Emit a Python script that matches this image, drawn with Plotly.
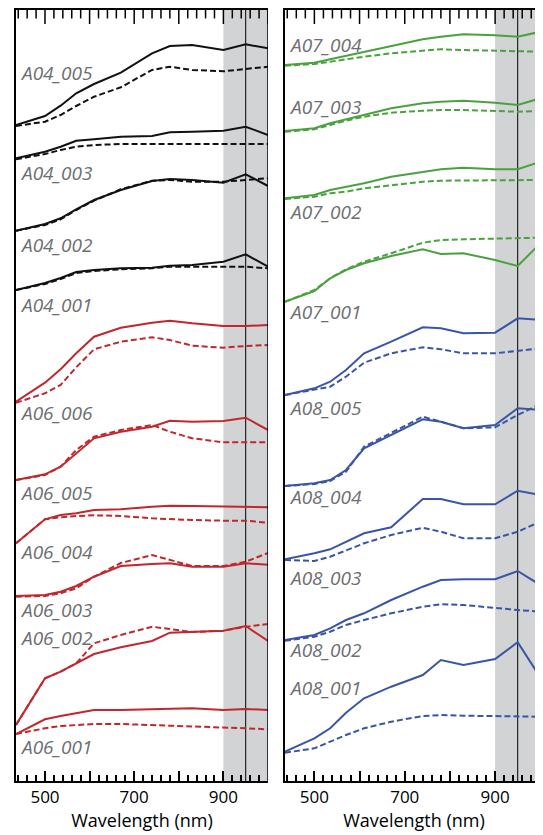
import plotly.graph_objects as go

# Wavelength sample points (nm)
wavelength = [435, 500, 535, 570, 610, 670, 740, 780, 830, 900, 950, 1000]

# ---- Left panel: A04 (black) and A06 (red); offset reflectance (arbitrary units) ----
A04_005_solid = [656, 665, 675.3, 687.7, 697, 708.3, 727.7, 735, 736, 731, 736.7, 732.7]
A04_005_dash = [655, 659.3, 666, 675, 684.3, 693.7, 711, 714.3, 711, 709.7, 712, 714.3]
A04_004_solid = [622.7, 629.3, 634.3, 640.3, 641.7, 644.3, 645, 648.7, 649.3, 650.3, 654.3, 646]
A04_004_dash = [621.7, 627, 631, 634.3, 636, 637, 637, 637, 637, 637, 637, 637]
A04_003_solid = [550.3, 557, 562.7, 571.7, 581, 591, 600, 602, 601, 598.3, 606.7, 595]
A04_003_dash = [550.3, 556, 561.7, 571, 580.3, 591.7, 600.3, 601, 599.3, 599.3, 601, 602.7]
A04_001_solid = [491, 498, 503, 509, 511, 512.7, 513.3, 515.3, 516, 519.3, 526.7, 514.3]
A04_001_dash = [491, 497, 502, 508, 510, 511.7, 512.7, 514.3, 514.3, 514.3, 514.3, 512.7]

A06_006_solid = [379.3, 398.3, 411.7, 427.7, 444.3, 453.3, 458.3, 460.3, 457.7, 455, 455, 456]
A06_006_dash = [378.3, 387.7, 396, 413.7, 431.7, 439.3, 443.7, 441, 435.3, 433.3, 435, 436]
A06_005_solid = [301, 306.7, 314.3, 327.7, 342.7, 349.3, 354.3, 360.3, 359.3, 360, 363.3, 351]
A06_005_dash = [301, 306, 314.3, 331, 344.3, 351, 356, 349.3, 342.7, 338.7, 338.7, 338.7]
A06_004_solid = [237.7, 261.7, 266, 267.7, 271, 271.7, 274.3, 275.3, 275, 274.3, 274.3, 273.7]
A06_004_dash = [237.7, 261.7, 263.7, 265, 265.7, 265, 262.7, 261.7, 261, 260.3, 260.3, 258.3]
A06_003_solid = [185, 186, 189.3, 195, 204.3, 215, 217, 217.7, 214.3, 214.3, 217.7, 216.3]
A06_003_dash = [184.3, 185, 187.7, 192.7, 204.3, 218, 226, 221, 215, 215, 219.3, 228]
A06_002_solid = [56, 102.7, 109.3, 117.7, 127, 133.7, 140, 148.3, 149, 150.3, 155, 140]
A06_002_dash = [56, 102.7, 109.3, 117.7, 137.7, 146, 154.3, 151.7, 149, 150.3, 154.3, 157]
A06_001_solid = [47, 61.7, 65, 67.7, 71, 71, 71.7, 72.7, 72.7, 71, 72, 71]
A06_001_dash = [47, 52.7, 55, 56, 57, 57, 56, 55.3, 55, 53.7, 52.7, 51.7]

# ---- Right panel: A07 (green) and A08 (blue) ----
A07_004_solid = [716, 718.3, 721.7, 725, 729.3, 735, 741.7, 744.3, 746.7, 745.7, 744.3, 749.3]
A07_004_dash = [715.3, 717, 719.3, 721.7, 724.3, 727.7, 730.3, 731.7, 731, 730, 729.3, 729.3]
A07_003_solid = [650, 652.7, 657.7, 661.7, 666, 672.7, 677.7, 679.3, 680.3, 678.3, 676, 682.7]
A07_003_dash = [649.3, 651.7, 656, 660.3, 664.3, 668.3, 670.3, 671, 671, 670, 669.3, 670]
A07_002_solid = [582.7, 586, 591, 594.3, 597.7, 604.3, 609.3, 611.7, 613.3, 611.7, 611.7, 619.3]
A07_002_dash = [582, 584.3, 587.7, 589.3, 592.7, 596, 599.3, 600.3, 600.3, 600.3, 601, 601]
A07_001_solid = [479.3, 490, 502.7, 511, 517.7, 525, 531.7, 527, 527.7, 521, 515, 537.7]
A07_001_dash = [479.3, 491, 502.7, 511.7, 519.3, 527.7, 538.3, 541, 541.7, 542.3, 543.3, 543.3]

A08_005_solid = [386, 392.7, 399.3, 411, 427.7, 439.3, 453.7, 452.7, 447.7, 448.3, 462.7, 461]
A08_005_dash = [386, 391, 394.3, 404.3, 418.3, 427.7, 433.7, 431.7, 427.7, 427.7, 430.3, 432.7]
A08_004_solid = [295, 297.7, 301, 311, 332.7, 346, 361.7, 359.3, 352.7, 356, 372.7, 371]
A08_004_dash = [295, 297, 300, 309.3, 334.3, 348.3, 364.3, 359.3, 352.7, 353.7, 366, 377]
A08_003_solid = [221.7, 227.7, 231.7, 239.3, 247.7, 253.7, 282, 282, 276.7, 276.7, 290.3, 286]
A08_003_dash = [221, 220, 224.3, 230.3, 237.7, 246, 253.3, 249.3, 242.7, 242.7, 249.3, 259.3]
A08_002_solid = [141, 146, 152.7, 161, 167.7, 181, 194.3, 201, 201.7, 201.7, 210, 196]
A08_002_dash = [140.3, 144.3, 149.3, 156, 161, 167.7, 174.3, 176.7, 176, 172.7, 171, 169.3]
A08_001_solid = [29.3, 42.7, 52.7, 68.3, 82.7, 94.3, 106, 121, 116, 122, 138.7, 103.7]
A08_001_dash = [28.3, 32.7, 39.3, 46, 52.7, 59.3, 65, 66, 65.3, 65, 65, 64.3]

# Sample labels and their vertical positions (same units as spectra)
left_labels = ["A04_005", "A04_003", "A04_002", "A04_001", "A06_006",
               "A06_005", "A06_004", "A06_003", "A06_002", "A06_001"]
left_label_y = [708, 608, 536, 476, 368, 288, 229, 171, 143, 34]
right_labels = ["A07_004", "A07_003", "A07_002", "A07_001", "A08_005",
                "A08_004", "A08_003", "A08_002", "A08_001"]
right_label_y = [736, 674, 569, 469, 373, 284, 203, 131, 93]

# Tick positions and labels
tick_vals = [500, 600, 700, 800, 900, 1000]
tick_text = ["500", "", "700", "", "900", ""]
minor_tick_vals = [440, 460, 480, 520, 540, 560, 580, 620, 640, 660, 680,
                   720, 740, 760, 780, 820, 840, 860, 880, 920, 940, 960, 980]

BLACK = "#111111"
RED = "#c1272d"
GREEN = "#4aa23e"
BLUE = "#3a55a5"

left_series = [
    (A04_005_solid, A04_005_dash, BLACK),
    (A04_004_solid, A04_004_dash, BLACK),
    (A04_003_solid, A04_003_dash, BLACK),
    (A04_001_solid, A04_001_dash, BLACK),
    (A06_006_solid, A06_006_dash, RED),
    (A06_005_solid, A06_005_dash, RED),
    (A06_004_solid, A06_004_dash, RED),
    (A06_003_solid, A06_003_dash, RED),
    (A06_002_solid, A06_002_dash, RED),
    (A06_001_solid, A06_001_dash, RED),
]
right_series = [
    (A07_004_solid, A07_004_dash, GREEN),
    (A07_003_solid, A07_003_dash, GREEN),
    (A07_002_solid, A07_002_dash, GREEN),
    (A07_001_solid, A07_001_dash, GREEN),
    (A08_005_solid, A08_005_dash, BLUE),
    (A08_004_solid, A08_004_dash, BLUE),
    (A08_003_solid, A08_003_dash, BLUE),
    (A08_002_solid, A08_002_dash, BLUE),
    (A08_001_solid, A08_001_dash, BLUE),
]

# The page body adds an 8 px margin, so the figure is sized to fit inside it.
W, H = 535, 827
LEFT_X = [435, 1000]
RIGHT_X = [435, 1006]
Y_RANGE = [0, 771]

fig = go.Figure()

for series, xa, ya in ((left_series, "x", "y"), (right_series, "x2", "y2")):
    for solid, dash, color in series:
        fig.add_trace(go.Scatter(x=wavelength, y=dash, mode="lines", xaxis=xa, yaxis=ya,
                                 line=dict(color=color, width=2, dash="6px,3px"),
                                 showlegend=False, hoverinfo="skip"))
        fig.add_trace(go.Scatter(x=wavelength, y=solid, mode="lines", xaxis=xa, yaxis=ya,
                                 line=dict(color=color, width=2),
                                 showlegend=False, hoverinfo="skip"))

# Top-edge tick marks (vertical line markers centred on the top frame, clipped to the plot)
for xa, ya in (("x", "y"), ("x2", "y2")):
    for vals, size in ((tick_vals, 20), (minor_tick_vals, 12)):
        fig.add_trace(go.Scatter(
            x=vals, y=[Y_RANGE[1]] * len(vals), mode="markers", xaxis=xa, yaxis=ya,
            marker=dict(symbol="line-ns", size=size, color="black", line=dict(width=1.5, color="black")),
            cliponaxis=True, showlegend=False, hoverinfo="skip"))

# Grey band (900-1000 nm) and 950 nm reference line
for xa, ya, xr in (("x", "y", LEFT_X), ("x2", "y2", RIGHT_X)):
    fig.add_shape(type="rect", xref=xa, yref=ya + " domain", x0=900, x1=xr[1], y0=0, y1=1,
                  fillcolor="#d1d3d4", line_width=0, layer="below")
    fig.add_shape(type="line", xref=xa, yref=ya + " domain", x0=950, x1=950, y0=0, y1=1,
                  line=dict(color="#000000", width=1), layer="below")
# right frame of the left panel
fig.add_shape(type="line", xref="x", yref="y domain", x0=LEFT_X[1], x1=LEFT_X[1], y0=0, y1=1,
              line=dict(color="#000000", width=1.5))

for labels, ys, xa, ya in ((left_labels, left_label_y, "x", "y"),
                           (right_labels, right_label_y, "x2", "y2")):
    for lab, yv in zip(labels, ys):
        fig.add_annotation(x=439, y=yv, xref=xa, yref=ya, text=lab, showarrow=False,
                           xanchor="left", yanchor="middle",
                           font=dict(family="Open Sans", size=19, color="#6d6e71", style="italic"))

xaxis_common = dict(
    showline=True, linecolor="black", linewidth=2, mirror=True,
    ticks="inside", ticklen=10, tickwidth=1.5, tickcolor="black",
    tickmode="array", tickvals=tick_vals, ticktext=tick_text,
    minor=dict(ticks="inside", ticklen=6, tickwidth=1.5, tickcolor="black", dtick=20, tick0=500),
    showgrid=False, zeroline=False,
    tickfont=dict(family="Open Sans", size=17, color="black"),
    title=dict(text="Wavelength (nm)", font=dict(family="Open Sans", size=18, color="black"), standoff=7),
)

fig.update_layout(
    width=W, height=H,
    margin=dict(l=0, r=0, t=2, b=54),
    paper_bgcolor="white", plot_bgcolor="white",
    xaxis=dict(domain=[8 / W, 260 / W], range=LEFT_X, **xaxis_common),
    xaxis2=dict(domain=[277 / W, 1.0], range=RIGHT_X, anchor="y2", **xaxis_common),
    yaxis=dict(range=Y_RANGE, showline=True, linecolor="black", linewidth=2, mirror=False,
               showticklabels=False, ticks="", showgrid=False, zeroline=False),
    yaxis2=dict(range=Y_RANGE, anchor="x2", showline=True, linecolor="black", linewidth=2,
                mirror=False, showticklabels=False, ticks="", showgrid=False, zeroline=False),
)

fig.write_html("out.html")
